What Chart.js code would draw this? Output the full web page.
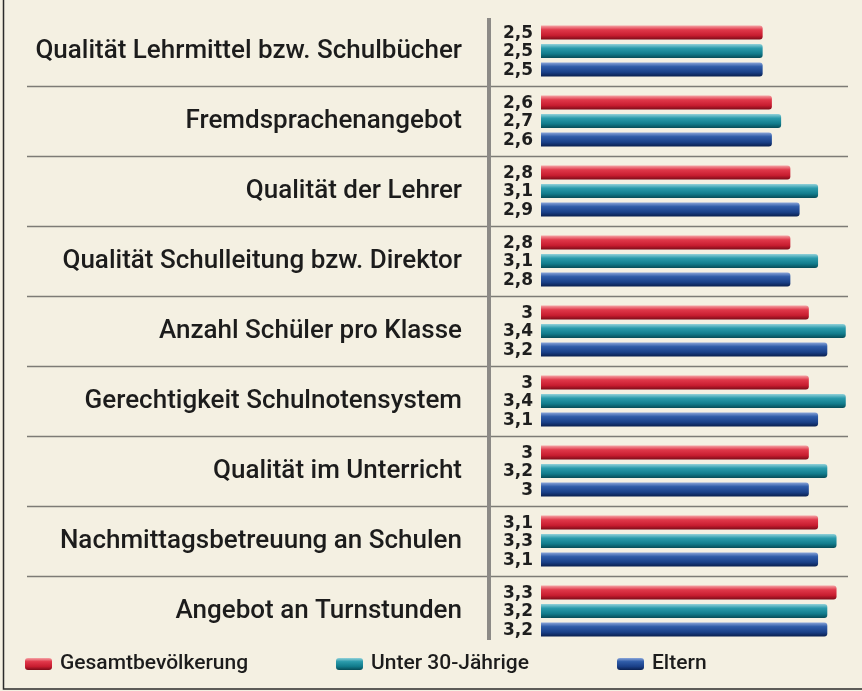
<!DOCTYPE html>
<html lang="de">
<head>
<meta charset="utf-8">
<title>Bewertung Schule</title>
<script src="https://cdn.jsdelivr.net/npm/chart.js@4.4.1/dist/chart.umd.min.js"></script>
<style>
  html, body { margin: 0; padding: 0; background: #f4f0e2; }
  #wrap { width: 862px; height: 691px; }
</style>
</head>
<body>
<div id="wrap"><canvas id="schoolChart" width="862" height="691"></canvas></div>
<script>
// data
const categories = [
  'Qualität Lehrmittel bzw. Schulbücher',
  'Fremdsprachenangebot',
  'Qualität der Lehrer',
  'Qualität Schulleitung bzw. Direktor',
  'Anzahl Schüler pro Klasse',
  'Gerechtigkeit Schulnotensystem',
  'Qualität im Unterricht',
  'Nachmittagsbetreuung an Schulen',
  'Angebot an Turnstunden',
];
const gesamtValues = [2.5, 2.6, 2.8, 2.8, 3, 3, 3, 3.1, 3.3];
const unter30Values = [2.5, 2.7, 3.1, 3.1, 3.4, 3.4, 3.2, 3.3, 3.2];
const elternValues = [2.5, 2.6, 2.9, 2.8, 3.2, 3.1, 3, 3.1, 3.2];
const seriesLabels = ['Gesamtbevölkerung', 'Unter 30-Jährige', 'Eltern'];

// glossy bar colours: highlight, main, lower, shadow
const palettes = [
  ['#f5a3a5', '#e0384a', '#c81d30', '#7c0b18'],
  ['#93d2da', '#2a9aab', '#117b8b', '#064b57'],
  ['#8aa6da', '#2f5ca8', '#1a4088', '#0a2050'],
];

const CAT_PCT = 0.79;
const BAR_PCT = 0.76;
const LABEL_FONT = 'Roboto';

function fillGradient(ctx, stops, top, bottom) {
  const g = ctx.createLinearGradient(0, top, 0, bottom);
  g.addColorStop(0, stops[0]);
  g.addColorStop(0.3, stops[1]);
  g.addColorStop(0.7, stops[2]);
  g.addColorStop(1, stops[3]);
  return g;
}

function barGradient(context) {
  const chart = context.chart;
  const stops = palettes[context.datasetIndex];
  const yScale = chart.scales.y;
  if (context.type !== 'data' || !yScale || !chart.chartArea) {
    return stops[1];
  }
  const pitch = yScale.height / categories.length;
  const chunk = (pitch * CAT_PCT) / 3;
  const center = yScale.getPixelForValue(context.dataIndex) + (context.datasetIndex - 1) * chunk;
  const half = (chunk * BAR_PCT) / 2;
  return fillGradient(chart.ctx, stops, center - half, center + half);
}

function formatValue(v) {
  return String(v).replace('.', ',');
}

const decorPlugin = {
  id: 'decor',
  beforeDraw(chart) {
    const { ctx, width, height } = chart;
    ctx.save();
    ctx.fillStyle = '#f4f0e2';
    ctx.fillRect(0, 0, width, height);
    ctx.strokeStyle = '#2b2b2b';
    ctx.lineWidth = 1.5;
    ctx.beginPath();
    ctx.moveTo(3.5, 0);
    ctx.lineTo(3.5, height - 2);
    ctx.lineTo(width, height - 2);
    ctx.stroke();
    ctx.restore();
  },
  beforeDatasetsDraw(chart) {
    const { ctx, chartArea, scales: { y } } = chart;
    ctx.save();
    ctx.strokeStyle = '#7d7b76';
    ctx.lineWidth = 1.5;
    for (let i = 1; i < categories.length; i++) {
      const yy = Math.round((y.getPixelForValue(i - 1) + y.getPixelForValue(i)) / 2) + 0.5;
      ctx.beginPath();
      ctx.moveTo(27, yy);
      ctx.lineTo(848, yy);
      ctx.stroke();
    }
    // vertical divider between labels and bars
    ctx.fillStyle = '#8c8a86';
    ctx.fillRect(chartArea.left - 54, chartArea.top + 2, 4, chartArea.height - 8);
    ctx.restore();
  },
  afterDatasetsDraw(chart) {
    const { ctx, chartArea } = chart;
    ctx.save();
    ctx.font = 'bold 17px "DejaVu Sans"';
    ctx.fillStyle = '#1e1e1e';
    ctx.textAlign = 'right';
    ctx.textBaseline = 'middle';
    chart.data.datasets.forEach((ds, di) => {
      chart.getDatasetMeta(di).data.forEach((bar, i) => {
        ctx.fillText(formatValue(ds.data[i]), chartArea.left - 8, bar.y + 1);
      });
    });
    ctx.restore();
  },
  afterDraw(chart) {
    // legend in fixed columns like the original
    const { ctx } = chart;
    const columns = [25, 336, 617];
    const yMid = 664;
    ctx.save();
    ctx.font = `500 21px ${LABEL_FONT}`;
    ctx.textBaseline = 'middle';
    chart.data.datasets.forEach((ds, di) => {
      const x = columns[di];
      const top = yMid - 6;
      ctx.fillStyle = fillGradient(ctx, palettes[di], top, top + 12);
      ctx.beginPath();
      ctx.roundRect(x, top, 27, 12, 3);
      ctx.fill();
      ctx.fillStyle = '#1c1c1c';
      ctx.fillText(ds.label, x + 35, yMid);
    });
    ctx.restore();
  },
};

const ctx = document.getElementById('schoolChart').getContext('2d');

const datasets = [gesamtValues, unter30Values, elternValues].map((values, i) => ({
  label: seriesLabels[i],
  data: values,
  backgroundColor: barGradient,
  borderRadius: 3,
  borderSkipped: false,
  categoryPercentage: CAT_PCT,
  barPercentage: BAR_PCT,
}));

new Chart(ctx, {
  type: 'bar',
  data: { labels: categories, datasets },
  plugins: [decorPlugin],
  options: {
    indexAxis: 'y',
    responsive: false,
    animation: false,
    devicePixelRatio: 1,
    layout: { padding: { top: 16, right: 7, bottom: 45, left: 0 } },
    plugins: {
      legend: { display: false },
      tooltip: {
        callbacks: {
          label: (c) => `${c.dataset.label}: ${formatValue(c.parsed.x)}`,
        },
      },
    },
    scales: {
      x: {
        display: false,
        min: 0.1,
        max: 3.5,
      },
      y: {
        grid: { display: false, drawTicks: false },
        border: { display: false },
        afterFit: (scale) => {
          scale.width = 541;
          scale.paddingTop = 0;
          scale.paddingBottom = 0;
        },
        ticks: {
          padding: 79,
          color: '#1c1c1c',
          font: { family: LABEL_FONT, size: 26, weight: 500 },
        },
      },
    },
  },
});
</script>
</body>
</html>
